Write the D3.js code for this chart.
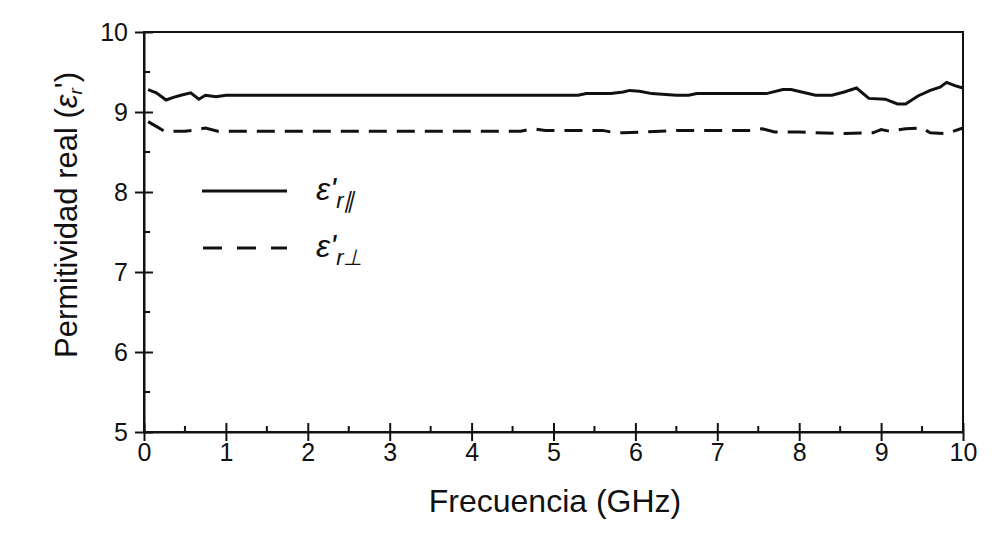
<!DOCTYPE html>
<meta charset="utf-8">
<style>
body { margin: 0; background: #fff; }
text { font-family: "Liberation Sans", Arial, sans-serif; fill: #111; }
.axis path, .axis line { stroke: #111; stroke-width: 2px; }
</style>
<svg width="1002" height="545"></svg>
<script src="https://d3js.org/d3.v7.min.js"></script>
<script>

// frequency (GHz) and real permittivity
var freqPar = [0.05, 0.15, 0.27, 0.35, 0.45, 0.57, 0.67, 0.75, 0.88, 1.0, 2, 3, 4, 5, 5.3, 5.4, 5.7, 5.85, 5.93, 6.05, 6.2, 6.5, 6.65, 6.75, 7.6, 7.8, 7.9, 8.2, 8.4, 8.55, 8.7, 8.85, 9.05, 9.2, 9.3, 9.45, 9.6, 9.72, 9.8, 9.9, 10];
var epsPar  = [9.28, 9.24, 9.15, 9.18, 9.21, 9.24, 9.16, 9.21, 9.19, 9.21, 9.21, 9.21, 9.21, 9.21, 9.21, 9.23, 9.23, 9.25, 9.27, 9.26, 9.23, 9.21, 9.21, 9.23, 9.23, 9.28, 9.28, 9.21, 9.21, 9.25, 9.3, 9.17, 9.16, 9.1, 9.1, 9.2, 9.27, 9.31, 9.37, 9.33, 9.3];

var freqPerp = [0.05, 0.15, 0.25, 0.5, 0.6, 0.75, 0.9, 1.0, 4.6, 4.75, 4.9, 5.6, 5.75, 5.85, 6.3, 6.5, 7.4, 7.55, 7.7, 8.0, 8.5, 8.9, 9.0, 9.1, 9.3, 9.5, 9.6, 9.8, 10];
var epsPerp  = [8.88, 8.82, 8.76, 8.76, 8.77, 8.8, 8.76, 8.76, 8.76, 8.79, 8.77, 8.77, 8.74, 8.74, 8.76, 8.77, 8.77, 8.79, 8.75, 8.75, 8.73, 8.74, 8.78, 8.76, 8.79, 8.8, 8.74, 8.73, 8.8];

var xTicks = [0, 1, 2, 3, 4, 5, 6, 7, 8, 9, 10];
var yTicks = [5, 6, 7, 8, 9, 10];

var svg = d3.select("svg");

var x = d3.scaleLinear().domain([0, 10]).range([144, 963]);
var y = d3.scaleLinear().domain([5, 10]).range([432, 32]);

// frame
svg.append("rect")
    .attr("x", x(0)).attr("y", y(10))
    .attr("width", x(10) - x(0)).attr("height", y(5) - y(10))
    .attr("fill", "none").attr("stroke", "#111").attr("stroke-width", 2);

// minor ticks (inside)
var g = svg.append("g").attr("stroke", "#111").attr("stroke-width", 2);
d3.range(0.5, 10, 1).forEach(function(v) {
  g.append("line").attr("x1", x(v)).attr("x2", x(v)).attr("y1", y(5)).attr("y2", y(5) - 6);
});
d3.range(5.5, 10, 1).forEach(function(v) {
  g.append("line").attr("y1", y(v)).attr("y2", y(v)).attr("x1", x(0)).attr("x2", x(0) + 6);
});

var xAxis = svg.append("g").attr("class", "axis")
    .attr("transform", "translate(0," + y(5) + ")")
    .call(d3.axisBottom(x).tickValues(xTicks).tickFormat(d3.format("d")).tickSize(0).tickPadding(11).tickSizeOuter(0));
xAxis.selectAll(".tick line").attr("y1", -9).attr("y2", 9);
xAxis.selectAll("text").attr("font-size", 25).attr("font-family", "Liberation Sans").attr("fill", "#111");

var yAxis = svg.append("g").attr("class", "axis")
    .attr("transform", "translate(" + x(0) + ",0)")
    .call(d3.axisLeft(y).tickValues(yTicks).tickFormat(d3.format("d")).tickSize(0).tickPadding(16).tickSizeOuter(0));
yAxis.selectAll(".tick line").attr("x1", -9).attr("x2", 9);
yAxis.selectAll("text").attr("font-size", 25).attr("font-family", "Liberation Sans").attr("fill", "#111");

// series
var line = d3.line().x(function(d) { return x(d[0]); }).y(function(d) { return y(d[1]); });

svg.append("path")
    .datum(d3.zip(freqPar, epsPar))
    .attr("d", line)
    .attr("fill", "none").attr("stroke", "#111").attr("stroke-width", 3);

svg.append("path")
    .datum(d3.zip(freqPerp, epsPerp))
    .attr("d", line)
    .attr("fill", "none").attr("stroke", "#111").attr("stroke-width", 3)
    .attr("stroke-dasharray", "18,10");

// legend
svg.append("line").attr("x1", 202).attr("x2", 287).attr("y1", 191).attr("y2", 191)
    .attr("stroke", "#111").attr("stroke-width", 3);
svg.append("line").attr("x1", 203).attr("x2", 287).attr("y1", 248).attr("y2", 248)
    .attr("stroke", "#111").attr("stroke-width", 3).attr("stroke-dasharray", "19,15");

var l1 = svg.append("text").attr("x", 316).attr("y", 200).attr("font-size", 32).attr("font-style", "italic");
l1.append("tspan").text("ε'");
l1.append("tspan").attr("font-size", 22).attr("dy", 8).text("r∥");

var l2 = svg.append("text").attr("x", 316).attr("y", 257).attr("font-size", 32).attr("font-style", "italic");
l2.append("tspan").text("ε'");
l2.append("tspan").attr("font-size", 22).attr("dy", 8).text("r⊥");

// axis titles
svg.append("text")
    .attr("x", 555).attr("y", 512)
    .attr("text-anchor", "middle").attr("font-size", 32)
    .text("Frecuencia (GHz)");

var yt = svg.append("text")
    .attr("transform", "translate(77,215) rotate(-90)")
    .attr("text-anchor", "middle").attr("font-size", 31);
yt.append("tspan").text("Permitividad real (");
yt.append("tspan").attr("font-style", "italic").text("ε");
yt.append("tspan").attr("font-style", "italic").attr("font-size", 19).attr("dy", 5).text("r");
yt.append("tspan").attr("dy", -5).text("')");

</script>
